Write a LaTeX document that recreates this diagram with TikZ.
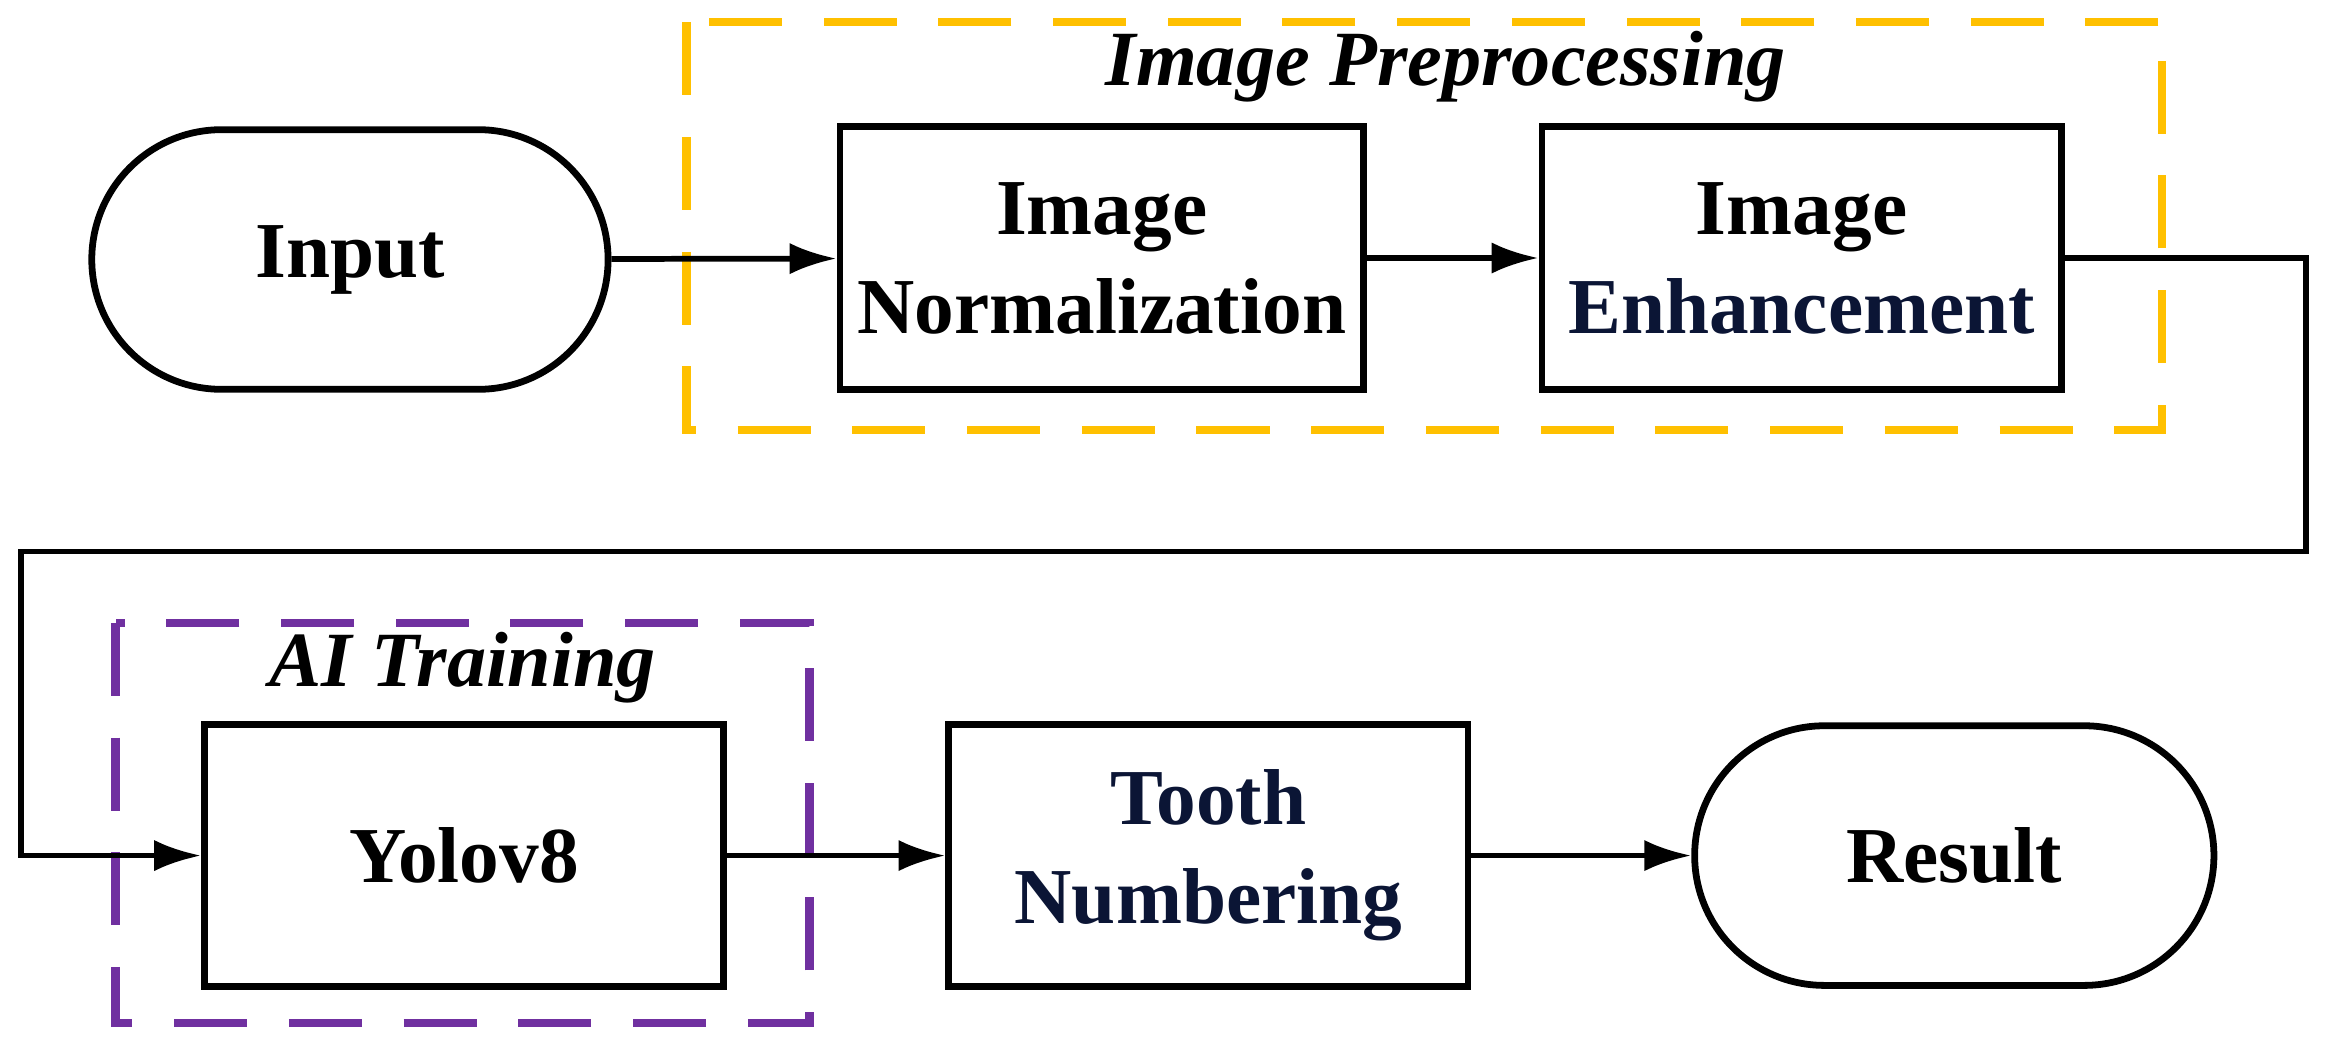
\documentclass[tikz,border=0pt]{standalone}
\usepackage{fontspec}
\setmainfont{Liberation Serif}
\usetikzlibrary{shapes.misc,arrows.meta}
\definecolor{navy}{HTML}{0B1535}
\definecolor{orng}{HTML}{FFC000}
\definecolor{purp}{HTML}{7030A0}
\begin{document}
\begin{tikzpicture}[x=0.01cm,y=-0.01cm,
  box/.style={draw,line width=1.3pt,minimum width=3.5cm,minimum height=1.77cm,align=center,font=\fontsize{15.2}{19}\selectfont\bfseries},
  term/.style={draw,line width=1.3pt,rounded rectangle,minimum width=3.5cm,minimum height=1.75cm,inner xsep=0pt,font=\fontsize{15.2}{19}\selectfont\bfseries},
  grp/.style={draw,line width=1.6pt,dash pattern=on 14pt off 8pt},
  lab/.style={font=\fontsize{15}{18}\selectfont\bfseries\itshape},
  arr/.style={line width=1.1pt,-{Latex[length=9pt,width=6pt]}}]
\useasboundingbox (0,0) rectangle (1568,705);
\draw[grp,orng] (463,15) rectangle (1458,290);
\draw[grp,purp] (78,420) rectangle (546,690);
\node[lab] (lp) at (975,45) {Image Preprocessing};
\node[lab] (la) at (312,450) {AI Training};
\node[term,minimum width=3.48cm] (in) at (236,175) {Input};
\node[box] (nm) at (743,174) {Image\\Normalization};
\node[box] (en) at (1215,174) {Image\\\textcolor{navy}{Enhancement}};
\node[box] (yo) at (313,577) {Yolov8};
\node[box] (tn) at (815,577) {\textcolor{navy}{Tooth}\\\textcolor{navy}{Numbering}};
\node[term] (rs) at (1318,577) {Result};
\coordinate (c1) at (1555,174);
\coordinate (c2) at (1555,372);
\coordinate (c3) at (14,372);
\coordinate (c4) at (14,577);
\draw[arr] (in) -- (nm);
\draw[arr] (nm) -- (en);
\draw[arr] (en.east) -- (c1) -- (c2) -- (c3) -- (c4) -- (yo.west);
\draw[arr] (yo) -- (tn);
\draw[arr] (tn) -- (rs);
\end{tikzpicture}
\end{document}
